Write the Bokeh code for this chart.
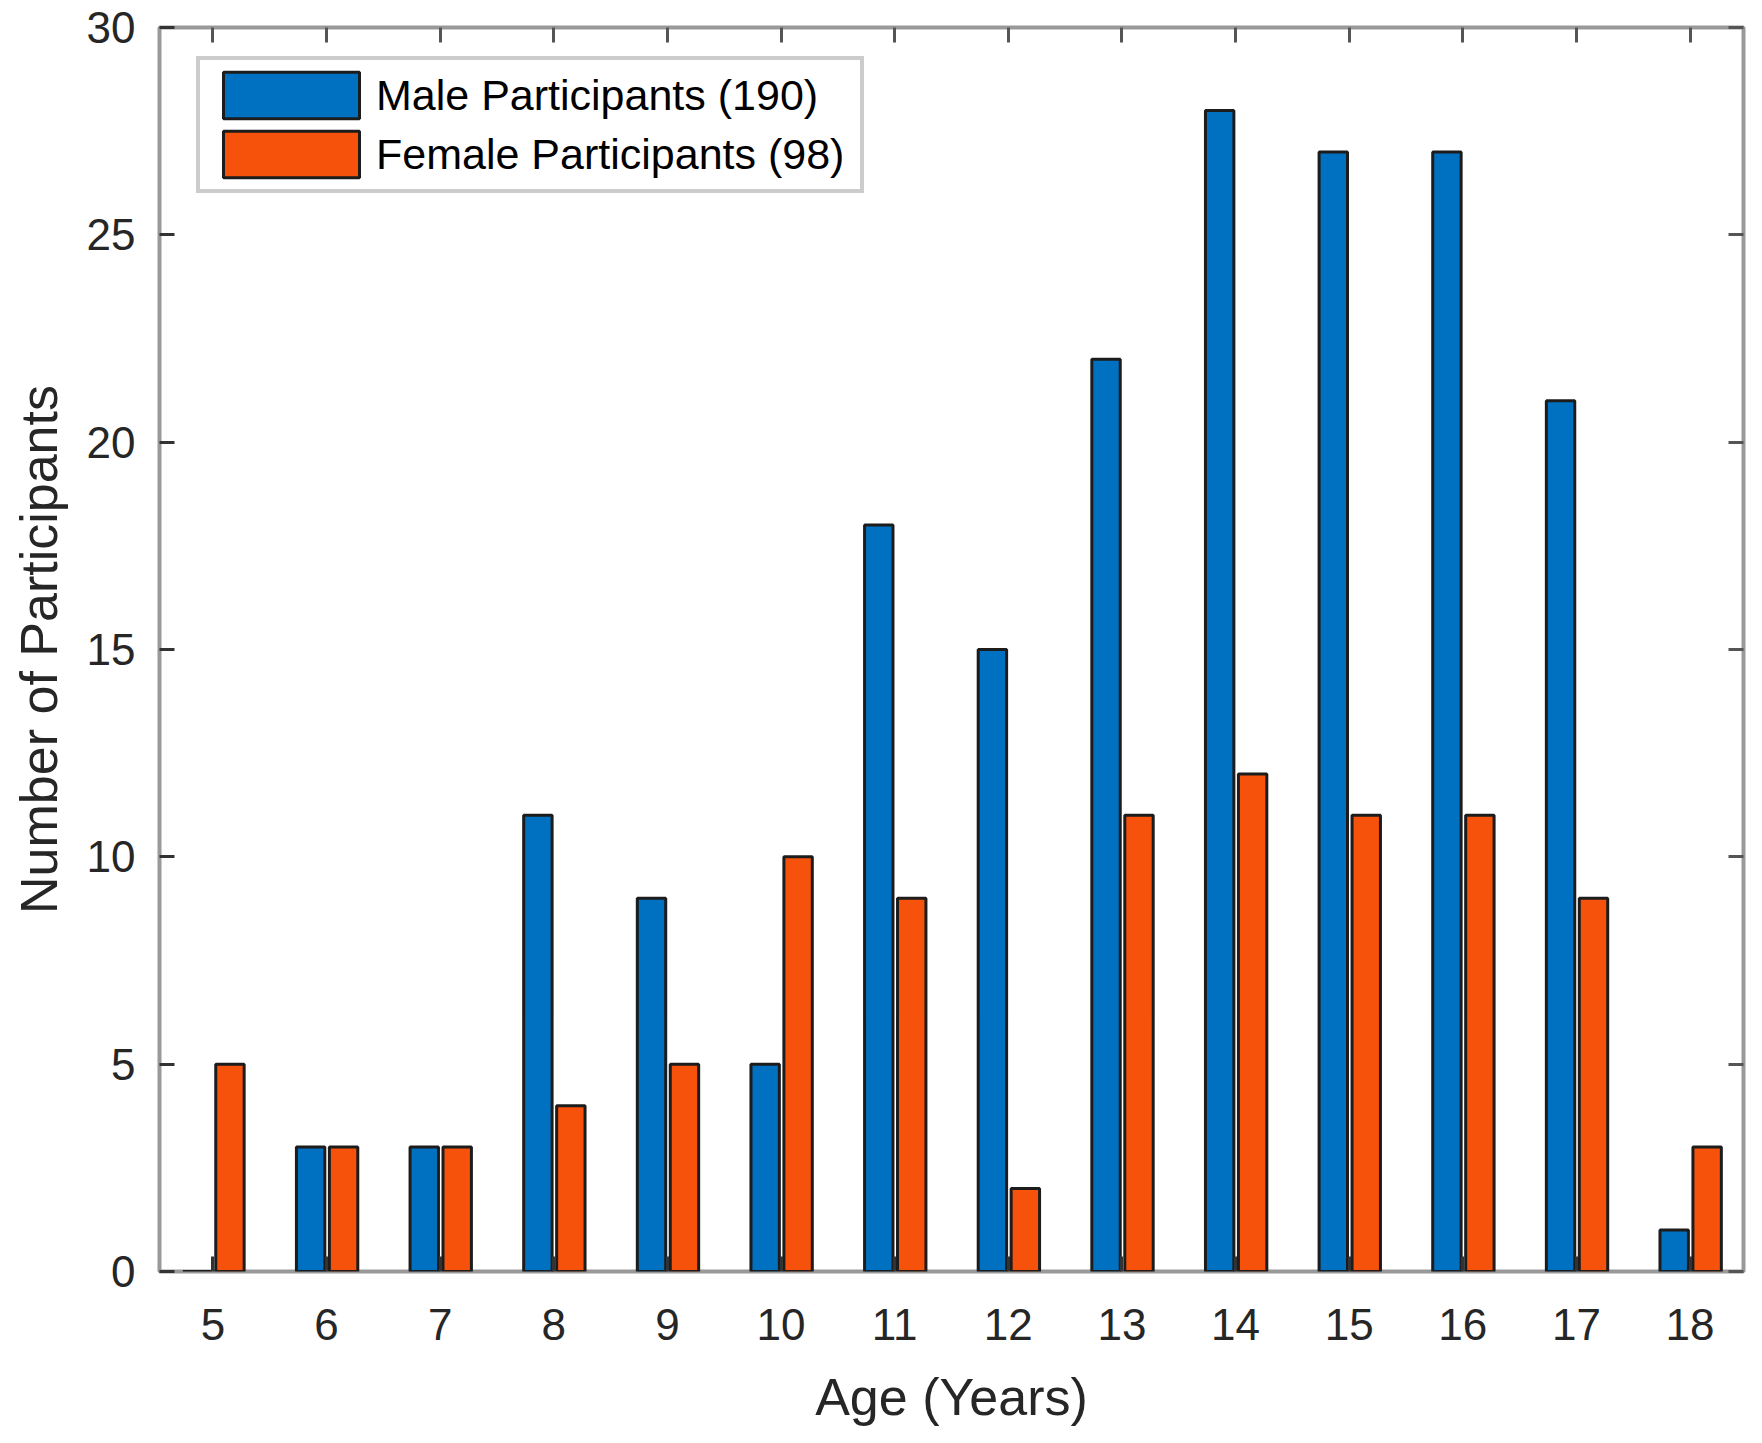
from bokeh.plotting import figure
from bokeh.models import ColumnDataSource, FixedTicker, LinearAxis, Range1d, Legend, LegendItem
from bokeh.embed import file_html
from bokeh.resources import INLINE

# data
ages = [5, 6, 7, 8, 9, 10, 11, 12, 13, 14, 15, 16, 17, 18]
male_counts = [0, 3, 3, 11, 9, 5, 18, 15, 22, 28, 27, 27, 21, 1]
female_counts = [5, 3, 3, 4, 5, 10, 9, 2, 11, 12, 11, 11, 9, 3]
y_ticks = [0, 5, 10, 15, 20, 25, 30]
male_label = "Male Participants (190)"
female_label = "Female Participants (98)"

FONT = "Liberation Sans"
BLUE = "#0071C1"
ORANGE = "#F7520B"

source = ColumnDataSource(data=dict(
    age=ages,
    male_x=[a - 0.14 for a in ages],
    female_x=[a + 0.15 for a in ages],
    male=male_counts,
    female=female_counts,
))

p = figure(width=1750, height=1440, output_backend="svg", toolbar_location=None,
           x_range=Range1d(4.53, 18.47), y_range=Range1d(0, 30),
           min_border_left=159, min_border_top=27, min_border_right=7, min_border_bottom=169)

male_r = p.vbar(x="male_x", top="male", width=0.25, bottom=0, source=source,
                fill_color=BLUE, line_color="#1c1c1c", line_width=3)
female_r = p.vbar(x="female_x", top="female", width=0.25, bottom=0, source=source,
                  fill_color=ORANGE, line_color="#1c1c1c", line_width=3)

p.xgrid.visible = False
p.ygrid.visible = False
p.outline_line_color = "#999999"
p.outline_line_width = 4
p.background_fill_color = "white"
p.border_fill_color = "white"

p.xaxis.ticker = FixedTicker(ticks=ages)
p.yaxis.ticker = FixedTicker(ticks=y_ticks)

for ax in p.xaxis + p.yaxis:
    ax.axis_line_color = None
    ax.major_tick_in = 15
    ax.major_tick_out = 0
    ax.minor_tick_line_color = None
    ax.major_tick_line_color = "#333333"
    ax.major_tick_line_width = 3
    ax.major_label_text_font = FONT
    ax.major_label_text_font_size = "44px"
    ax.major_label_text_color = "#262626"
    ax.axis_label_text_font = FONT
    ax.axis_label_text_font_size = "52px"
    ax.axis_label_text_font_style = "normal"
    ax.axis_label_text_color = "#262626"

p.xaxis.axis_label = "Age (Years)"
p.xaxis.major_label_standoff = 37
p.xaxis.axis_label_standoff = 25
p.yaxis.axis_label = "Number of Participants"
p.yaxis.major_label_standoff = 24
p.yaxis.axis_label_standoff = 16

# mirror ticks on top and right, no labels
top_ax = LinearAxis(ticker=FixedTicker(ticks=ages))
right_ax = LinearAxis(ticker=FixedTicker(ticks=y_ticks))
for ax in (top_ax, right_ax):
    ax.axis_line_color = None
    ax.major_tick_in = 15
    ax.major_tick_out = 0
    ax.minor_tick_line_color = None
    ax.major_tick_line_color = "#555555"
    ax.major_tick_line_width = 3
    ax.major_label_text_font_size = "0px"
    ax.major_label_text_color = None
    ax.major_label_standoff = 0
p.add_layout(top_ax, "above")
p.add_layout(right_ax, "right")

legend = Legend(items=[LegendItem(label=male_label, renderers=[male_r]),
                       LegendItem(label=female_label, renderers=[female_r])],
                location=(37, 1078))
legend.glyph_width = 170
legend.glyph_height = 58
legend.label_height = 58
legend.spacing = 1
legend.padding = 6
legend.label_standoff = 0
legend.label_width = 478
legend.label_text_font = FONT
legend.label_text_font_size = "43px"
legend.label_text_color = "black"
legend.border_line_color = "#999999"
legend.border_line_width = 4
legend.background_fill_color = "white"
legend.background_fill_alpha = 1
p.add_layout(legend)

open("out.html", "w").write(file_html(p, INLINE))
